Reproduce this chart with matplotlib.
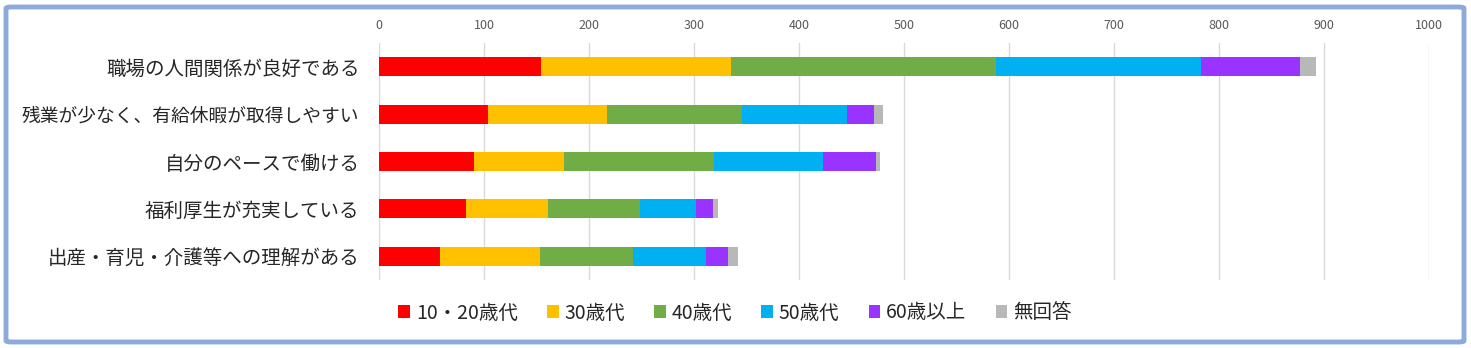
import matplotlib
matplotlib.use("Agg")
import matplotlib.pyplot as plt
from matplotlib.patches import FancyBboxPatch
import numpy as np

plt.rcParams['font.family'] = ['Noto Sans CJK JP', 'DejaVu Sans']

categories = [
    "職場の人間関係が良好である",
    "残業が少なく、有給休暇が取得しやすい",
    "自分のペースで働ける",
    "福利厚生が充実している",
    "出産・育児・介護等への理解がある",
]
age_groups = ["10・20歳代", "30歳代", "40歳代", "50歳代", "60歳以上", "無回答"]
colors = ["#ff0000", "#ffc000", "#70ad47", "#00b0f0", "#9933ff", "#b8b8b8"]

# counts per age group, one list per category
teens_20s = [154, 104, 90, 83, 58]
thirties = [181, 113, 86, 78, 95]
forties = [253, 129, 143, 88, 89]
fifties = [195, 100, 104, 53, 69]
sixties_up = [94, 25, 50, 16, 21]
no_answer = [15, 9, 4, 5, 10]
series = [teens_20s, thirties, forties, fifties, sixties_up, no_answer]

fig = plt.figure(figsize=(14.71, 3.48), dpi=100)
ax = fig.add_axes([379 / 1471, 1 - 280 / 348, 1050 / 1471, 237 / 348])

y = np.arange(len(categories))
left = np.zeros(len(categories))
for vals, label, col in zip(series, age_groups, colors):
    ax.barh(y, vals, left=left, height=0.4, color=col, label=label, zorder=3)
    left += np.array(vals)

ax.set_xlim(0, 1000)
ax.set_ylim(len(categories) - 0.5, -0.5)
ax.set_xticks(range(0, 1001, 100))
ax.set_yticks(y)
ax.set_yticklabels(categories, fontsize=14, color="#262626")
# the long label uses full-width punctuation here, shrink it a bit to fit
ax.get_yticklabels()[1].set_fontsize(13.5)
ax.xaxis.tick_top()
ax.tick_params(axis="x", length=0, pad=8, labelsize=9, labelcolor="#595959")
ax.tick_params(axis="y", length=0, pad=14)
ax.grid(axis="x", color="#d9d9d9", linewidth=1, zorder=0)
for s in ax.spines.values():
    s.set_visible(False)

fig.legend(loc="center", bbox_to_anchor=(735 / 1471, 1 - 313 / 348), ncol=6,
           frameon=False, fontsize=14, handlelength=0.6, handleheight=0.6,
           handletextpad=0.3, columnspacing=1.5, labelcolor="#262626")

frame = FancyBboxPatch((6 / 1471, 6 / 348), 1458 / 1471, 335 / 348,
                       boxstyle="round,pad=0,rounding_size=0.004",
                       transform=fig.transFigure, fill=False,
                       edgecolor="#8eaadb", linewidth=3.5)
fig.patches.append(frame)

fig.savefig("out.png", dpi=100)
plt.close(fig)
